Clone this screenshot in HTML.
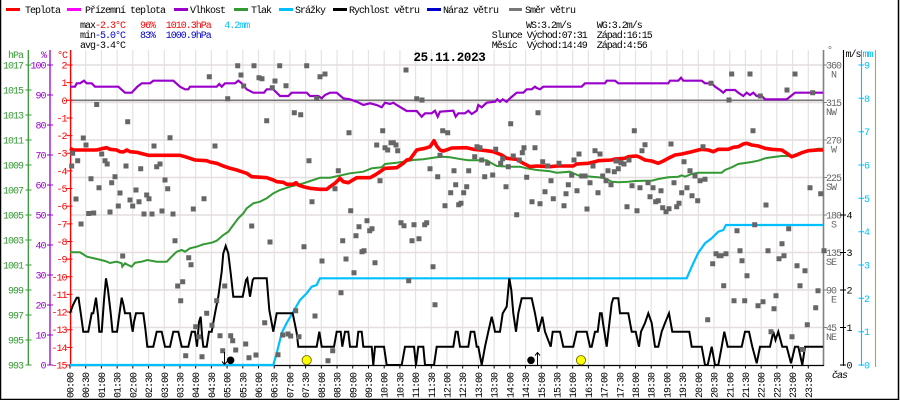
<!DOCTYPE html>
<html><head><meta charset="utf-8"><style>
html,body{margin:0;padding:0;background:#fff;}
svg{display:block;}
text{font-family:"Liberation Mono","DejaVu Sans Mono",monospace;font-size:10px;letter-spacing:-1px;}
</style></head><body>
<svg width="900" height="400" viewBox="0 0 900 400" xmlns="http://www.w3.org/2000/svg">
<rect x="0" y="0" width="900" height="400" fill="#fff"/>
<!-- border -->
<path d="M0.5 0V399.5H898.5V0" fill="none" stroke="#000" stroke-width="1.5"/>

<!-- legend -->
<g stroke-width="3">
<path d="M6 9.5H20" stroke="#ff0000"/>
<path d="M67 9.5H81" stroke="#ff00ff"/>
<path d="M174 9.5H188" stroke="#9900cc"/>
<path d="M234 9.5H248" stroke="#339933"/>
<path d="M279 9.5H293" stroke="#00bfff"/>
<path d="M333 9.5H347" stroke="#000"/>
<path d="M427 9.5H441" stroke="#0000cc"/>
<path d="M509 9.5H522" stroke="#777"/>
</g>
<g fill="#000">
<text x="25" y="13">Teplota</text>
<text x="85" y="13">Přízemní teplota</text>
<text x="190" y="13">Vlhkost</text>
<text x="251" y="13">Tlak</text>
<text x="295" y="13">Srážky</text>
<text x="349" y="13">Rychlost větru</text>
<text x="443" y="13">Náraz větru</text>
<text x="525" y="13">Směr větru</text>
</g>

<!-- stats -->
<text x="80" y="28">max</text>
<text x="95" y="28" fill="#ff0000">-2.3°C</text>
<text x="140" y="28" fill="#ff0000">96%</text>
<text x="165.7" y="28" fill="#ff0000">1010.3hPa</text>
<text x="224.3" y="28" fill="#00bfff">4.2mm</text>
<text x="80" y="38">min</text>
<text x="95" y="38" fill="#0000cc">-5.0°C</text>
<text x="140" y="38" fill="#0000cc">83%</text>
<text x="165.7" y="38" fill="#0000cc">1000.9hPa</text>
<text x="80" y="48">avg</text>
<text x="95" y="48">-3.4°C</text>
<text x="526" y="28">WS:3.2m/s</text>
<text x="596.7" y="28">WG:3.2m/s</text>
<text x="491.7" y="38">Slunce</text>
<text x="526.7" y="38">Východ:07:31</text>
<text x="596.7" y="38">Západ:16:15</text>
<text x="491.7" y="48">Měsíc</text>
<text x="526.7" y="48">Východ:14:49</text>
<text x="596.7" y="48">Západ:4:56</text>

<!-- grid -->
<path d="M85.71 50V365M101.42 50V365M117.13 50V365M132.83 50V365M148.54 50V365M164.25 50V365M179.96 50V365M195.67 50V365M211.38 50V365M227.08 50V365M242.79 50V365M258.5 50V365M274.21 50V365M289.92 50V365M305.63 50V365M321.33 50V365M337.04 50V365M352.75 50V365M368.46 50V365M384.17 50V365M399.88 50V365M415.58 50V365M431.29 50V365M447 50V365M462.71 50V365M478.42 50V365M494.13 50V365M509.83 50V365M525.54 50V365M541.25 50V365M556.96 50V365M572.67 50V365M588.38 50V365M604.08 50V365M619.79 50V365M635.5 50V365M651.21 50V365M666.92 50V365M682.63 50V365M698.33 50V365M714.04 50V365M729.75 50V365M745.46 50V365M761.17 50V365M776.88 50V365M792.58 50V365M808.29 50V365" stroke="#e6e2e2" stroke-width="1.2" fill="none"/>
<path d="M70 65H823M70 102.5H823M70 140H823M70 177.5H823M70 215H823M70 252.5H823M70 290H823M70 327.5H823" stroke="#e4dede" stroke-width="1.4" fill="none"/>
<!-- 0 C line -->
<path d="M70 100.3H823" stroke="#777" stroke-width="1.6"/>

<!-- title -->
<text x="449.5" y="61" text-anchor="middle" style="font-size:12.5px;font-weight:bold;letter-spacing:-0.3px">25.11.2023</text>

<!-- left axes -->
<path d="M28.3 50V365" stroke="#339933" stroke-width="1.3"/>
<path d="M50 50V365" stroke="#9900cc" stroke-width="1.3"/>
<path d="M70.6 50V366" stroke="#ff0000" stroke-width="1.4"/>
<path d="M25.5 65H31.5M25.5 90H31.5M25.5 115H31.5M25.5 140H31.5M25.5 165H31.5M25.5 190H31.5M25.5 215H31.5M25.5 240H31.5M25.5 265H31.5M25.5 290H31.5M25.5 315H31.5M25.5 340H31.5M25.5 365H31.5" stroke="#339933" stroke-width="1"/>
<path d="M47 65H53M47 95H53M47 125H53M47 155H53M47 185H53M47 215H53M47 245H53M47 275H53M47 305H53M47 335H53M47 365H53" stroke="#9900cc" stroke-width="1"/>
<path d="M66.5 65H72.5M66.5 82.65H72.5M66.5 100.29H72.5M66.5 117.94H72.5M66.5 135.59H72.5M66.5 153.24H72.5M66.5 170.88H72.5M66.5 188.53H72.5M66.5 206.18H72.5M66.5 223.82H72.5M66.5 241.47H72.5M66.5 259.12H72.5M66.5 276.76H72.5M66.5 294.41H72.5M66.5 312.06H72.5M66.5 329.71H72.5M66.5 347.35H72.5M66.5 365H72.5" stroke="#ff0000" stroke-width="1"/>
<g fill="#339933" text-anchor="end">
<text x="23" y="58">hPa</text>
<text x="23" y="68.5">1017</text><text x="23" y="93.5">1015</text><text x="23" y="118.5">1013</text><text x="23" y="143.5">1011</text><text x="23" y="168.5">1009</text><text x="23" y="193.5">1007</text><text x="23" y="218.5">1005</text><text x="23" y="243.5">1003</text><text x="23" y="268.5">1001</text><text x="23" y="293.5">999</text><text x="23" y="318.5">997</text><text x="23" y="343.5">995</text><text x="23" y="368.5">993</text>
</g>
<g fill="#9900cc" text-anchor="end">
<text x="46" y="58">%</text>
<text x="45.5" y="68.5">100</text><text x="45.5" y="98.5">90</text><text x="45.5" y="128.5">80</text><text x="45.5" y="158.5">70</text><text x="45.5" y="188.5">60</text><text x="45.5" y="218.5">50</text><text x="45.5" y="248.5">40</text><text x="45.5" y="278.5">30</text><text x="45.5" y="308.5">20</text><text x="45.5" y="338.5">10</text><text x="45.5" y="368.5">0</text>
</g>
<g fill="#ff0000" text-anchor="end">
<text x="67" y="58">°C</text>
<text x="66.5" y="68.5">2</text><text x="66.5" y="86.1">1</text><text x="66.5" y="103.8">0</text><text x="66.5" y="121.4">-1</text><text x="66.5" y="139.1">-2</text><text x="66.5" y="156.7">-3</text><text x="66.5" y="174.4">-4</text><text x="66.5" y="192">-5</text><text x="66.5" y="209.7">-6</text><text x="66.5" y="227.3">-7</text><text x="66.5" y="245">-8</text><text x="66.5" y="262.6">-9</text><text x="66.5" y="280.3">-10</text><text x="66.5" y="297.9">-11</text><text x="66.5" y="315.6">-12</text><text x="66.5" y="333.2">-13</text><text x="66.5" y="350.9">-14</text><text x="66.5" y="368.5">-15</text>
</g>

<!-- right axes -->
<path d="M823.5 50V366" stroke="#808080" stroke-width="1.6"/>
<path d="M823 65H827M823 102.5H827M823 140H827M823 177.5H827M823 215H827M823 252.5H827M823 290H827M823 327.5H827" stroke="#808080" stroke-width="1"/>
<g fill="#666">
<text x="827" y="53">°</text>
<text x="826" y="68.5">360</text><text x="836" y="77.5" text-anchor="end">N</text>
<text x="826" y="106">315</text><text x="836" y="115" text-anchor="end">NW</text>
<text x="826" y="143.5">270</text><text x="836" y="152.5" text-anchor="end">W</text>
<text x="826" y="181">225</text><text x="836" y="190" text-anchor="end">SW</text>
<text x="826" y="218.5">180</text><text x="836" y="227.5" text-anchor="end">S</text>
<text x="826" y="256">135</text><text x="836" y="265" text-anchor="end">SE</text>
<text x="826" y="293.5">90</text><text x="836" y="302.5" text-anchor="end">E</text>
<text x="826" y="331">45</text><text x="836" y="340" text-anchor="end">NE</text>
</g>
<path d="M843.5 50V366" stroke="#000" stroke-width="1.1"/>
<path d="M840 215H846M840 252.5H846M840 290H846M840 327.5H846M840 365H846" stroke="#000" stroke-width="1"/>
<g fill="#000">
<text x="845.5" y="57">m/s</text>
<text x="846.5" y="218.5">4</text><text x="846.5" y="256">3</text><text x="846.5" y="293.5">2</text><text x="846.5" y="331">1</text><text x="846.5" y="368.5">0</text>
</g>
<path d="M861.5 50V366" stroke="#00bfff" stroke-width="1.1"/>
<path d="M858.5 65H864M858.5 98.3H864M858.5 131.7H864M858.5 165H864M858.5 198.3H864M858.5 231.7H864M858.5 265H864M858.5 298.3H864M858.5 331.7H864M858.5 365H864" stroke="#00bfff" stroke-width="1"/>
<g fill="#00bfff">
<text x="862.5" y="57">mm</text>
<text x="864" y="68.5">9</text><text x="864" y="101.8">8</text><text x="864" y="135.2">7</text><text x="864" y="168.5">6</text><text x="864" y="201.8">5</text><text x="864" y="235.2">4</text><text x="864" y="268.5">3</text><text x="864" y="301.8">2</text><text x="864" y="335.2">1</text><text x="864" y="368.5">0</text>
</g>
<path d="M875.5 50V367" stroke="#e8902c" stroke-width="1.1"/>
<text x="832" y="378" fill="#000" style="font-style:italic">čas</text>

<!-- x axis -->
<path d="M70 365.5H824" stroke="#000" stroke-width="1.2"/>
<path d="M70 365V368.5M85.71 365V368.5M101.42 365V368.5M117.13 365V368.5M132.83 365V368.5M148.54 365V368.5M164.25 365V368.5M179.96 365V368.5M195.67 365V368.5M211.38 365V368.5M227.08 365V368.5M242.79 365V368.5M258.5 365V368.5M274.21 365V368.5M289.92 365V368.5M305.63 365V368.5M321.33 365V368.5M337.04 365V368.5M352.75 365V368.5M368.46 365V368.5M384.17 365V368.5M399.88 365V368.5M415.58 365V368.5M431.29 365V368.5M447 365V368.5M462.71 365V368.5M478.42 365V368.5M494.13 365V368.5M509.83 365V368.5M525.54 365V368.5M541.25 365V368.5M556.96 365V368.5M572.67 365V368.5M588.38 365V368.5M604.08 365V368.5M619.79 365V368.5M635.5 365V368.5M651.21 365V368.5M666.92 365V368.5M682.63 365V368.5M698.33 365V368.5M714.04 365V368.5M729.75 365V368.5M745.46 365V368.5M761.17 365V368.5M776.88 365V368.5M792.58 365V368.5M808.29 365V368.5" stroke="#000" stroke-width="1"/>
<g fill="#000" text-anchor="end">
<text x="70" y="376.5" transform="rotate(-90 70 373)">00:00</text>
<text x="85.71" y="376.5" transform="rotate(-90 85.71 373)">00:30</text>
<text x="101.42" y="376.5" transform="rotate(-90 101.42 373)">01:00</text>
<text x="117.13" y="376.5" transform="rotate(-90 117.13 373)">01:30</text>
<text x="132.83" y="376.5" transform="rotate(-90 132.83 373)">02:00</text>
<text x="148.54" y="376.5" transform="rotate(-90 148.54 373)">02:30</text>
<text x="164.25" y="376.5" transform="rotate(-90 164.25 373)">03:00</text>
<text x="179.96" y="376.5" transform="rotate(-90 179.96 373)">03:30</text>
<text x="195.67" y="376.5" transform="rotate(-90 195.67 373)">04:00</text>
<text x="211.38" y="376.5" transform="rotate(-90 211.38 373)">04:30</text>
<text x="227.08" y="376.5" transform="rotate(-90 227.08 373)">05:00</text>
<text x="242.79" y="376.5" transform="rotate(-90 242.79 373)">05:30</text>
<text x="258.5" y="376.5" transform="rotate(-90 258.5 373)">06:00</text>
<text x="274.21" y="376.5" transform="rotate(-90 274.21 373)">06:30</text>
<text x="289.92" y="376.5" transform="rotate(-90 289.92 373)">07:00</text>
<text x="305.63" y="376.5" transform="rotate(-90 305.63 373)">07:30</text>
<text x="321.33" y="376.5" transform="rotate(-90 321.33 373)">08:00</text>
<text x="337.04" y="376.5" transform="rotate(-90 337.04 373)">08:30</text>
<text x="352.75" y="376.5" transform="rotate(-90 352.75 373)">09:00</text>
<text x="368.46" y="376.5" transform="rotate(-90 368.46 373)">09:30</text>
<text x="384.17" y="376.5" transform="rotate(-90 384.17 373)">10:00</text>
<text x="399.88" y="376.5" transform="rotate(-90 399.88 373)">10:30</text>
<text x="415.58" y="376.5" transform="rotate(-90 415.58 373)">11:00</text>
<text x="431.29" y="376.5" transform="rotate(-90 431.29 373)">11:30</text>
<text x="447" y="376.5" transform="rotate(-90 447 373)">12:00</text>
<text x="462.71" y="376.5" transform="rotate(-90 462.71 373)">12:30</text>
<text x="478.42" y="376.5" transform="rotate(-90 478.42 373)">13:00</text>
<text x="494.13" y="376.5" transform="rotate(-90 494.13 373)">13:30</text>
<text x="509.83" y="376.5" transform="rotate(-90 509.83 373)">14:00</text>
<text x="525.54" y="376.5" transform="rotate(-90 525.54 373)">14:30</text>
<text x="541.25" y="376.5" transform="rotate(-90 541.25 373)">15:00</text>
<text x="556.96" y="376.5" transform="rotate(-90 556.96 373)">15:30</text>
<text x="572.67" y="376.5" transform="rotate(-90 572.67 373)">16:00</text>
<text x="588.38" y="376.5" transform="rotate(-90 588.38 373)">16:30</text>
<text x="604.08" y="376.5" transform="rotate(-90 604.08 373)">17:00</text>
<text x="619.79" y="376.5" transform="rotate(-90 619.79 373)">17:30</text>
<text x="635.5" y="376.5" transform="rotate(-90 635.5 373)">18:00</text>
<text x="651.21" y="376.5" transform="rotate(-90 651.21 373)">18:30</text>
<text x="666.92" y="376.5" transform="rotate(-90 666.92 373)">19:00</text>
<text x="682.63" y="376.5" transform="rotate(-90 682.63 373)">19:30</text>
<text x="698.33" y="376.5" transform="rotate(-90 698.33 373)">20:00</text>
<text x="714.04" y="376.5" transform="rotate(-90 714.04 373)">20:30</text>
<text x="729.75" y="376.5" transform="rotate(-90 729.75 373)">21:00</text>
<text x="745.46" y="376.5" transform="rotate(-90 745.46 373)">21:30</text>
<text x="761.17" y="376.5" transform="rotate(-90 761.17 373)">22:00</text>
<text x="776.88" y="376.5" transform="rotate(-90 776.88 373)">22:30</text>
<text x="792.58" y="376.5" transform="rotate(-90 792.58 373)">23:00</text>
<text x="808.29" y="376.5" transform="rotate(-90 808.29 373)">23:30</text>
</g>

<!-- precipitation -->
<polyline fill="none" stroke="#00bfff" stroke-width="2.2" points="70,365 273.3,365 277,352 281.7,333 286.7,323 293.3,311.7 300,300 306.7,293.3 311.7,286.7 316.7,285 318.5,281 320,278.3 686.7,278.3 691.7,266.7 698.3,252.7 705,243.3 711.7,238.3 718.3,231.7 723.3,230 726,225 823,225"/>

<!-- pressure -->
<polyline fill="none" stroke="#339933" stroke-width="2" points="70,252.3 80,252.3 87,256.7 97,259 105,261 110,263 116.7,261.7 121.7,263.3 122.3,266.7 125,263.3 128,265 131.7,266.7 135,262.7 141.7,261.7 147.3,260 156.7,261.7 166.7,261.7 170,258.3 173.3,255 176.7,251.7 181.7,250 185,251.7 190,248.3 196.7,246.7 203.3,244.3 211.7,242.7 216.7,240.7 223.3,235 228.3,231.7 233.3,225 238.3,218.3 243.3,213.3 246.7,208.3 253.3,203.3 260,201.7 266.7,198.3 273.3,193.3 280,190 290,186.7 296.7,185 303.3,183.3 313.3,180 320,177.7 330,177.7 350,173.3 363.3,171.7 371.7,168.3 381.7,167.3 385,164 396.7,162.7 403.3,161.7 413.3,160 423.3,159.3 436.7,157.3 443.3,156.7 450,157.3 461.7,159.3 468.3,160.3 486.7,160.3 491.7,163.3 496.7,166 510,166.7 520,166.7 526.7,168.3 536.7,170 550,171.3 556.7,172.7 570,171.7 573.3,173.3 580,176 585,176 591.7,176.7 598.3,177.3 605,178.3 608.3,180 611.7,181.7 618.3,182.3 628.3,181.7 635,181 645,180.7 651.7,180.7 658.3,179 668.3,177.3 678.3,176.7 681.7,175.3 685,176.7 691.7,174 698.3,172.7 721.7,172.7 725,170 731.7,167.3 738.3,164 751.7,162 758.3,160.7 765,158.3 771.7,157.3 781.7,156 791.7,156 798.3,153.3 805,151.7 810,150 818.3,148.7 823,148.7"/>

<!-- humidity -->
<polyline fill="none" stroke="#9900cc" stroke-width="2.2" points="70,86.7 75,86.7 76.7,83.3 80,83.3 84,80.7 86.7,83.3 91.7,83.3 95,86.7 118.3,86.7 125,92.7 131.7,92.7 137.3,86.7 141.7,83.3 150,83.3 153.3,80.7 173.3,80.7 180,86.7 185,89.3 188.3,89.3 190,86.7 216.7,86.7 219.3,84 221.7,86.7 225,83.3 235,83.3 238.3,80.7 241.7,83.3 246.7,89.3 253.3,92.7 264,92.7 266.7,89.3 273.3,89.3 280,96 288.3,96 291.7,92.7 306.7,92.7 310,96 318.3,96 321.7,98.3 325,95 330,92.7 336.7,92.7 343.3,98.3 350,99.3 356.7,101.7 363.3,105 370,103.3 376.7,105 381.7,107.3 385,102.7 390,104 393.3,102.7 396.7,105 406.7,111 416.7,111 421.7,116.7 425,113.3 431.7,113.3 435,110.7 437.7,116.7 440,111.7 453.3,110.7 455.7,116.7 458.3,113.3 465,113.3 468.3,110.7 471.7,114 476.7,110.7 478.3,105 481.7,107.3 486.7,102.7 495,101.7 497.3,99.3 500,101.7 502.7,99.3 506.7,101.7 510,98.3 516.7,92.7 523.3,92.7 526.7,89.3 531.7,89.3 535,86.7 536.7,88 540,89.3 543.3,86.7 581.7,86.7 585,83.3 605,83.3 606.7,80.7 615,80.7 618.3,83.3 668.3,83.3 670,80.7 678.3,80.7 681,77.7 683.3,80.7 701.7,80.7 705,83.3 711.7,83.3 715,86.7 720,90 723.3,92.7 726,90 735,90 738.3,92.7 743.3,96 746.7,92.7 750,95 753.3,92.7 756.7,96 761.7,96 765,99.3 786.7,99.3 790,96.7 795,92.7 823,92.7"/>

<!-- temperature -->
<polyline fill="none" stroke="#ff0000" stroke-width="3.6" stroke-linejoin="round" points="70,148.3 73.3,150 96.7,150 101.7,148.7 106.7,147.7 110,149.3 116.7,150 120,151.7 123.3,152 126.7,150 130,151.7 136.7,152.3 143.3,154 148.3,155.3 180,155.3 185,156.7 190,158.3 195,160 206.7,160.7 210,162 216.7,163.3 223.3,166 230,168.3 236.7,170 241.7,171.7 246.7,173.3 251.7,176.7 266.7,177.7 273.3,180 276.7,181.7 283.3,182.3 286.7,184.3 293.3,184.3 296,182.7 298.3,185 303.3,186.7 310,188.3 320,189.3 326.7,189.3 330,186.7 335,183.3 340,178.3 343.3,181.7 348.3,182.7 356.7,177.7 370,177.7 375,175 380,171.7 385,168.3 396.7,167.7 403.3,163.3 406.7,160 410,159.3 416.7,150 420,149.3 425,148.3 430,146.7 434,140.7 436.7,146 440,150 443.3,151 448.3,149.3 451.7,148 466.7,147.7 473.3,149.3 480,150 486.7,150.7 493.3,151.7 501.7,155 506.7,158.3 516.7,159.3 523.3,163.3 530,166.7 536.7,166 550,166.7 556.7,166 573.3,166 576.7,164 588.3,163.3 595,161.7 598.3,160.7 611.7,160 615,159 625,158.3 628.3,156.7 636.7,156 640,157.3 645,160 651.7,161 658.3,163.3 663.3,161 668.3,158.3 675,155 681.7,154 685,153.3 691.7,151.7 698.3,150 701.7,149.3 708.3,150 713.3,151.7 718.3,149.3 728.3,149.3 733.3,147.3 738.3,146.7 743.3,144 746.7,143.3 751.7,145 758.3,146 765,148.3 771.7,149.3 781.7,150 786.7,153.3 791.7,156.7 796.7,155 801.7,152.7 808.3,150.7 818.3,150 823,150"/>

<!-- wind speed -->
<polyline fill="none" stroke="#000" stroke-width="2" points="70,313.3 73,305 76.7,297.7 78.5,297.7 81,315 83.3,331.7 88.3,331.7 91.7,313.3 93.3,313.3 96,297.7 98,315 99.3,331.7 101.7,331.7 104,300 106,278.3 108,290 110.7,313.3 112.5,331.7 117,331.7 119.5,313.3 121.7,297.7 123.5,305 125,313.3 130,313.3 131.5,325 132.7,331.7 134,322 136,313.3 143.3,313.3 145.5,330 147.3,346.7 153.3,346.7 156.7,331.7 161.7,331.7 165,346.7 170,346.7 173.3,331.7 178.3,331.7 181.7,346.7 188.3,346.7 191.7,331.7 195,331.7 197,346.7 199,322 200.7,316.7 202,335 203.3,346.7 206.7,346.7 209,331.7 211.7,331.7 215,313.3 218.3,296.7 221.7,271.7 223.3,253.3 225.7,246 228.3,253.3 230.7,273.3 233.3,296.7 242.7,296.7 246,280 247.3,278.3 250,296.7 252.7,280 254,278.3 266.7,278.3 269.3,310 273.3,331.7 276.7,313.3 292.7,313.3 296.7,333 298.3,346.7 316.7,346.7 319.3,331.7 321.7,346.7 334,346.7 336.7,331.7 340.7,331.7 342.3,346.7 345,331.7 348.3,331.7 350,346.7 356.7,346.7 358.3,331.7 361.7,331.7 363.3,346.7 371.7,346.7 373.3,365 375,346.7 384,346.7 386.7,365 401.7,365 405,346.7 414,346.7 416,365 418.3,346.7 423.3,346.7 425,365 434,365 436.7,346.7 453.3,346.7 455.7,331.7 457.7,331.7 460,346.7 468.3,346.7 470.7,331.7 474.3,331.7 476.7,346.7 478.3,346.7 481.7,365 485,346.7 488.3,331.7 491.7,316.7 493.3,323.3 495,331.7 500,331.7 502.7,313.3 506.7,306.7 509.3,278.3 511.3,290 513.3,313.3 516,331.7 518.3,313.3 521.7,298.3 531.7,298.3 535,313.3 538.3,331.7 542.3,316.7 545,331.7 550.7,346.7 552.7,331.7 560,331.7 563.3,346.7 573.3,346.7 576.7,331.7 586.7,331.7 590,346.7 591.7,346.7 595,331.7 597.7,331.7 600,313.3 601.7,313.3 603,323 606.7,346.7 608,335 611.7,303.3 613.3,298.3 618.3,298.3 620,313.3 628.3,313.3 631.7,331.7 635.7,331.7 639,346.7 641,331.7 645,323 648.3,313.3 651.7,323 655,346.7 658.3,346.7 661.7,331.7 665,323 669,313.3 672.3,331.7 689.3,331.7 691.7,346.7 701.7,346.7 705,365 707.7,365 711.7,346.7 715,365 718.3,365 721.7,346.7 724.3,331.7 727.7,346.7 741.7,346.7 745,331.7 749,331.7 752.3,346.7 756.7,363.3 760,346.7 770,346.7 773.3,331.7 775.5,340 778.3,331.7 782.3,346.7 786.7,346.7 791,363.3 795,346.7 798.3,346.7 802.3,365 805,346.7 823,346.7"/>

<!-- wind direction scatter -->
<path fill="none" stroke="#666" stroke-width="5" stroke-linecap="square" d="M71.7 166h0M72.7 153.3h0M77.7 160.7h0M83.3 138h0M86 145h0M76 199h0M81 224h0M88.7 213.5h0M93.7 213h0M91 178.7h0M96.7 104.5h0M99 187.7h0M101.7 154h0M105 160.7h0M107.2 164h0M111.7 182.7h0M115 176.8h0M110 212h0M118.3 206h0M120 193h0M127.7 121.7h0M126 166h0M122.7 256h0M130 200h0M132.7 206h0M136 190h0M139 201.7h0M140.7 168.7h0M144 214h0M146.7 195h0M149 198.7h0M152 214h0M154 146h0M156.7 166.7h0M160 164h0M162 211h0M165 180h0M167.7 188.7h0M170 137.7h0M173 214h0M175 240.7h0M177.7 286h0M180.7 300.7h0M182.7 281.7h0M185.7 355.7h0M188.7 257.7h0M191 264.7h0M193.3 209h0M195.7 326.7h0M198.7 336.7h0M202 356.7h0M204 198.7h0M206.7 313.3h0M209.3 76.7h0M212 325.3h0M215 146h0M216.7 300.7h0M220 335.7h0M222.7 350.7h0M224.7 286h0M227.7 98.7h0M230.7 335.7h0M232.7 340.7h0M235.7 350h0M237.7 65.7h0M241 75h0M243.7 86h0M245.7 344h0M249 357.7h0M251.7 226h0M254 65.7h0M256 355h0M259 77.7h0M262 78.7h0M264.7 322.7h0M266.7 120.7h0M270 242h0M272.3 87.7h0M275 81h0M278 354.7h0M279.7 65.7h0M282.7 335h0M286 85.7h0M288 334h0M290.7 336h0M294.3 112.7h0M295.7 310.7h0M299 336.7h0M300.7 114.7h0M304 246.7h0M306.7 65.7h0M309 160.7h0M312 201.7h0M315 316h0M316.7 98.5h0M320 76.7h0M325 74h0M322 261h0M328 360.7h0M332.7 350.7h0M335 188.7h0M338.3 170.7h0M341 292.7h0M342.7 240.7h0M346 259h0M349 132.7h0M350.7 210.7h0M354 272.7h0M356 235.7h0M359 226.7h0M362 251.7h0M364 250.7h0M367 220.7h0M369.7 230.7h0M372 228.7h0M375 262.7h0M376.7 145h0M380 180.7h0M382.7 130.7h0M385 147.7h0M387.7 150h0M391 142.7h0M393.3 142.7h0M396 145h0M397.7 150.7h0M401 222.7h0M404 225.7h0M406 70h0M408.7 280.7h0M412 240.7h0M414 224.7h0M416.7 98.7h0M419 238.7h0M422 100h0M424.7 224.7h0M426.7 222.7h0M430 168.7h0M433 266.7h0M435 304.7h0M437.7 176.7h0M440 155.3h0M442.7 130.7h0M445 205.7h0M447.7 132.7h0M450.7 192.7h0M454 170.7h0M455.7 184.7h0M458.7 204.7h0M461 203.3h0M463.7 192.7h0M466.7 186.7h0M468.7 170.7h0M474.7 156.7h0M477 146.7h0M480 147.7h0M481.7 160h0M484.7 176.7h0M487.7 163.3h0M492.7 175h0M495.7 149.3h0M500.7 163.3h0M502.7 158.7h0M506 186.7h0M508.3 166.7h0M510.7 123.7h0M513.3 156h0M516.7 214.7h0M519.3 160h0M522.3 152.7h0M524 147.7h0M526.7 177.3h0M532 201.7h0M535 147.7h0M538 112.7h0M540 203.7h0M542.7 161.7h0M545 191.7h0M547.7 166h0M551 180.7h0M553.3 198.7h0M559 163.3h0M564 205.7h0M566 193.7h0M568.3 184.7h0M571.7 175.3h0M574 160h0M577 190.7h0M579 154h0M581.7 176h0M585 176h0M587 209h0M590 182.7h0M593 166h0M595 150.7h0M598 192.7h0M600 154h0M602.7 176h0M606 180.7h0M608 170.7h0M611 184.7h0M614.3 171.7h0M616 161h0M618.3 168.7h0M621 162.7h0M624 164h0M627 206.7h0M629 160h0M632 185.7h0M634.3 130.7h0M637 210.7h0M640 187.7h0M642 150.7h0M645 144.7h0M648 182.7h0M650 196.7h0M653 187.7h0M655.7 201.7h0M658.3 200.7h0M661 190.7h0M662.7 207.7h0M666 211.7h0M669 208.7h0M671 144h0M674 182.7h0M676.7 206.7h0M679 203.3h0M681.7 192.7h0M684 161.7h0M687 187.7h0M690 170.7h0M692 195.7h0M695 176h0M697.7 200.7h0M700 180.7h0M703 146.7h0M705 179.3h0M707.7 319.7h0M711 83.3h0M712.7 263.7h0M716 253.7h0M719 255.7h0M721 255.7h0M723.7 285.7h0M726 253.7h0M729 100h0M731.7 74h0M734 300.7h0M737 230.7h0M740 250.7h0M742 260.7h0M744.7 300.7h0M747 275.7h0M750 74h0M753 130.7h0M754.7 224.7h0M758 305.7h0M760.3 96h0M763 301.7h0M766 205h0M768 250.7h0M771 331.7h0M774 308.7h0M776 295.7h0M779 258.7h0M782 243.7h0M784 255.7h0M787 90h0M788.7 228.7h0M792 336.7h0M795 74h0M797 265.7h0M800 285.7h0M802.5 349.5h0M805 270.7h0M807.3 324.7h0M810 187.7h0M812.7 92.7h0M815.7 307.7h0M818 290.7h0M820.7 193.7h0M824 250.7h0"/>

<!-- sun / moon markers -->
<path d="M224.5 352V364M222 361.5L224.5 364.5L227 361.5" stroke="#000" stroke-width="1" fill="none"/>
<circle cx="230.6" cy="360.3" r="3.8" fill="#000"/>
<path d="M537.5 353V365M535 355.5L537.5 352.5L540 355.5" stroke="#000" stroke-width="1" fill="none"/>
<circle cx="531" cy="360.3" r="3.8" fill="#000"/>
<circle cx="306.7" cy="360.2" r="4.6" fill="#ffff00" stroke="#6b6b00" stroke-width="0.9"/>
<circle cx="581" cy="360.2" r="4.6" fill="#ffff00" stroke="#6b6b00" stroke-width="0.9"/>
</svg>
</body></html>
